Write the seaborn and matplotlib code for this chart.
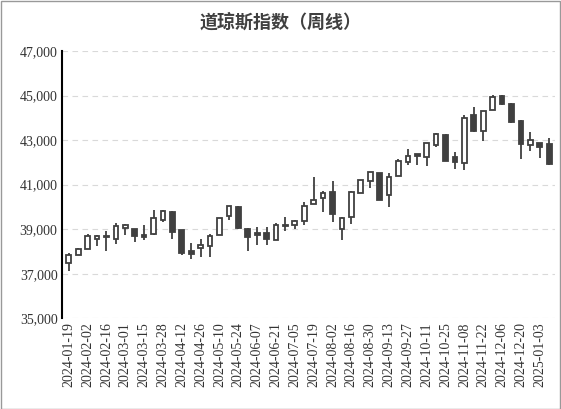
import numpy as np
import pandas as pd
import seaborn as sns
import matplotlib.pyplot as plt
from matplotlib.ticker import FuncFormatter

dates = pd.date_range("2024-01-19", periods=52, freq="7D")
# Good Friday week closed on Thursday
dates = dates.where(dates != pd.Timestamp("2024-03-29"), pd.Timestamp("2024-03-28"))
opens = [37485, 37850, 38090, 38545, 38650, 38545, 39060, 39030, 38730, 38800,
         39410, 39790, 38950, 38000, 38150, 38240, 38760, 39600, 40000, 39030,
         38820, 38850, 38530, 39150, 39180, 39360, 40150, 40410, 40680, 39030,
         39530, 40640, 41160, 41510, 40530, 41390, 42010, 42370, 42260, 42790,
         43240, 42260, 41990, 44110, 43420, 44370, 44970, 44640, 43840, 42790,
         42860, 42830]
closes = [37850, 38120, 38700, 38700, 38700, 39150, 39210, 38700, 38650, 39480,
          39820, 38880, 37940, 37900, 38270, 38700, 39515, 40030, 39060, 38650,
          38730, 38580, 39210, 39200, 39380, 40045, 40300, 40610, 39700, 39510,
          40680, 41210, 41560, 40310, 41360, 42070, 42310, 42290, 42860, 43270,
          42080, 42030, 43990, 43390, 44320, 44920, 44620, 43800, 42820, 43020,
          42700, 41920]
highs = [37940, 38150, 38790, 38760, 38910, 39290, 39230, 39030, 39210, 39860,
         39860, 39820, 38985, 38380, 38545, 38790, 39515, 40060, 40030, 39060,
         39090, 39090, 39260, 39560, 39410, 40240, 41360, 40710, 41160, 39560,
         40710, 41210, 41590, 41540, 41540, 42160, 42610, 42400, 42890, 43320,
         43290, 42460, 44140, 44470, 44320, 45050, 45050, 44670, 43920, 43350,
         42890, 43090]
lows = [37140, 37820, 38090, 38230, 38030, 38350, 38760, 38420, 38500, 38760,
        39300, 38580, 37850, 37640, 37770, 37770, 38760, 39410, 39030, 38000,
        38270, 38300, 38500, 38910, 39030, 39180, 40110, 39780, 39330, 38500,
        39250, 40640, 40830, 40310, 39980, 41390, 41890, 41890, 41840, 42710,
        42080, 41710, 41660, 43360, 42970, 44370, 44560, 43770, 42140, 42520,
        42190, 41890]

df = pd.DataFrame({"date": dates, "open": opens, "close": closes,
                   "high": highs, "low": lows})
df["x"] = np.arange(len(df))
df["up"] = df["close"] >= df["open"]

sns.set_theme(style="white")
plt.rcParams["font.family"] = ["Liberation Serif", "Noto Sans CJK SC"]

fig = plt.figure(figsize=(5.61, 4.09), dpi=100)
ax = fig.add_axes([0.11, 0.222, 0.879, 0.653])
col = "#404040"

ax.vlines(df["x"], df["low"], df["high"], color=col, lw=1.3, zorder=2)
bottom = df[["open", "close"]].min(axis=1)
height = (df["close"] - df["open"]).abs().clip(lower=40)
fills = np.where(df["up"], "white", col)
ax.bar(df["x"], height, bottom=bottom, width=0.5, color=fills,
       edgecolor=col, linewidth=1.3, zorder=3)

ax.set_ylim(35000, 47000)
ax.set_yticks(range(35000, 47001, 2000))
ax.yaxis.set_major_formatter(FuncFormatter(lambda v, p: f"{int(v):,}"))
ax.set_xlim(-0.75, 51.6)
ticks = df["x"][::2]
ax.set_xticks(ticks)
ax.set_xticklabels(df["date"][::2].dt.strftime("%Y-%m-%d"), rotation=90)
ax.tick_params(axis="both", labelsize=10, colors="#333333", length=0, pad=3)
ax.grid(axis="y", color="#d9d9d9", linestyle=(0, (5, 4)), lw=0.8, zorder=0)
for s in ["top", "right", "bottom"]:
    ax.spines[s].set_visible(False)
ax.spines["left"].set_color("black")
ax.spines["left"].set_linewidth(1.5)

fig.text(0.5, 0.945, "道琼斯指数（周线）", ha="center", va="center",
         fontsize=13, color="#404040", fontweight="bold", family=["Noto Sans CJK SC"])
fig.patches.append(plt.Rectangle((0.001, 0.001), 0.997, 0.997, transform=fig.transFigure,
                                 fill=False, edgecolor="#999999", lw=1))
fig.savefig("out.png", dpi=100)
